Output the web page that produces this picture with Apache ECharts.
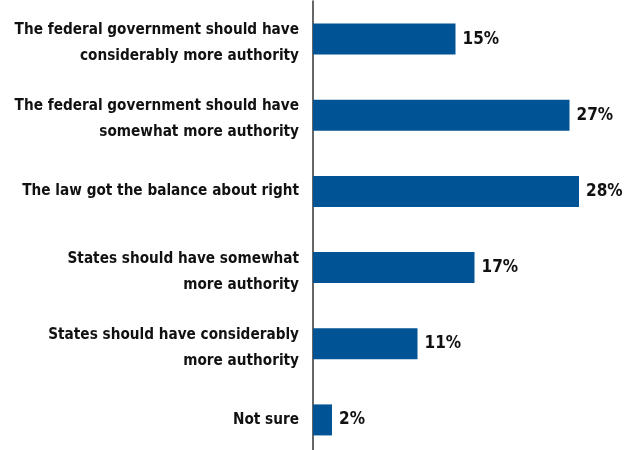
<!DOCTYPE html>
<html><head><meta charset="utf-8">
<script src="https://cdn.jsdelivr.net/npm/echarts@6/dist/echarts.min.js"></script>
<style>html,body{margin:0;padding:0;background:#fff}#c{width:639px;height:450px}</style>
</head><body><div id="c"></div>
<script>
var categories = [
  "The federal government should have\nconsiderably more authority",
  "The federal government should have\nsomewhat more authority",
  "The law got the balance about right",
  "States should have somewhat\nmore authority",
  "States should have considerably\nmore authority",
  "Not sure"
];
var values = [15, 27, 28, 17, 11, 2];
var FONT = "'DejaVu Sans Condensed', 'Liberation Sans', sans-serif";

var labelStyle = {color: '#111', fontFamily: FONT, fontWeight: 'bold', fontSize: 15.2, lineHeight: 26, align: 'right'};

var chart = echarts.init(document.getElementById('c'), null, {renderer: 'canvas'});
chart.setOption({
  animation: false,
  backgroundColor: '#fff',
  grid: {left: 313, top: 1, width: 285, height: 457, outerBoundsMode: 'none', containLabel: false},
  xAxis: {type: 'value', min: 0, max: 30, show: false},
  yAxis: {
    type: 'category', data: categories, inverse: true,
    axisLine: {show: true, lineStyle: {color: '#333', width: 1.5}},
    axisTick: {show: false},
    axisLabel: Object.assign({
      margin: 14,
      formatter: function (v) {
        var lines = v.split('\n');
        if (lines.length === 1) return '{n|' + v + '}';
        return '{p|' + lines[0] + '}\n{n|' + lines[1] + '}';
      },
      rich: {
        p: Object.assign({}, labelStyle, {lineHeight: 34, padding: [8, 0, 0, 0]}),
        n: Object.assign({}, labelStyle)
      }
    }, labelStyle)
  },
  series: [{
    type: 'bar', data: values, barWidth: 31,
    itemStyle: {color: '#005495'},
    label: {
      show: true, position: 'right', distance: 7, formatter: '{c}%',
      color: '#111', fontFamily: FONT, fontWeight: 'bold', fontSize: 17
    }
  }]
});
</script></body></html>
